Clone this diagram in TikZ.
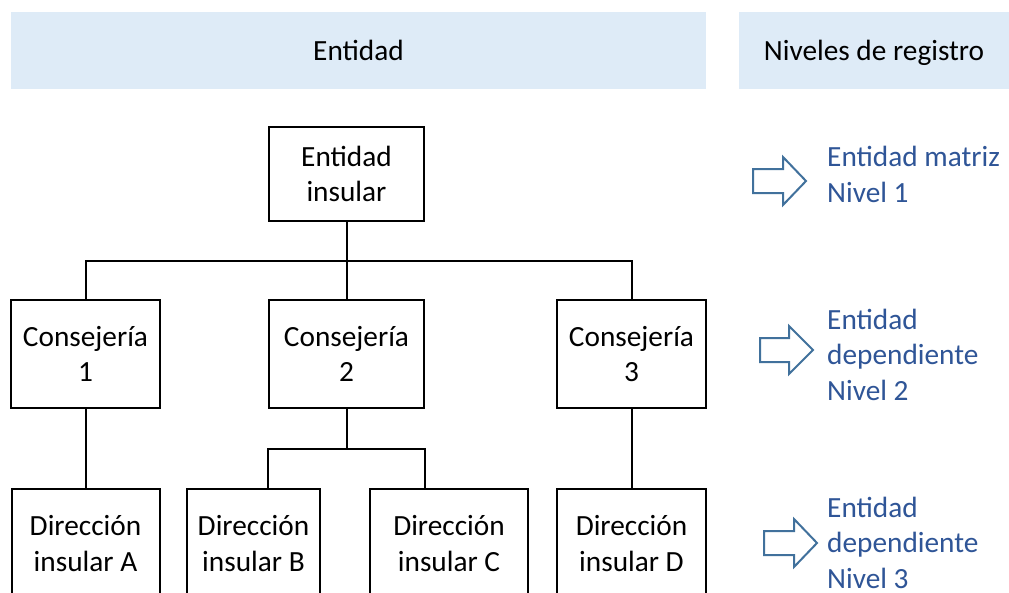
\documentclass[tikz,border=0pt]{standalone}
\usepackage{fontspec}
\setmainfont{Carlito}
\definecolor{hdr}{HTML}{DEEBF7}
\definecolor{lbl}{HTML}{2F5597}
\definecolor{arr}{HTML}{41719C}
\begin{document}
\begin{tikzpicture}[x=1pt,y=-1pt,
  every node/.style={font=\fontsize{29.3}{35.5}\selectfont},
  box/.style={draw=black, line width=2pt, fill=white, inner sep=0pt, align=center},
  hdrbox/.style={fill=hdr, inner sep=0pt, text depth=0pt},
  conn/.style={line width=2pt},
  lvl/.style={text=lbl, align=left, anchor=base west, inner sep=0pt},
  bigarrow/.style={draw=arr, line width=2pt, fill=white, line join=miter}]
\clip (0,0) rectangle (1009,592);
\fill[white] (0,0) rectangle (1009,592);
% headers
\node[hdrbox, minimum width=695pt, minimum height=77pt] (h1) at (358.5,50) {Entidad};
\node[hdrbox, minimum width=270pt, minimum height=77pt] (h2) at (874,50) {Niveles de registro};
% boxes
\node[box, minimum width=155pt, minimum height=94pt] (top) at (346.5,174) {Entidad\\insular};
\node[box, minimum width=149pt, minimum height=108pt] (c1) at (85.5,354) {Consejería\\1};
\node[box, minimum width=155pt, minimum height=108pt] (c2) at (346.5,354) {Consejería\\2};
\node[box, minimum width=149pt, minimum height=108pt] (c3) at (631.5,354) {Consejería\\3};
\node[box, minimum width=148pt, minimum height=109pt] (dA) at (85.5,543.5) {Dirección\\insular A};
\node[box, minimum width=133pt, minimum height=109pt] (dB) at (253.5,543.5) {Dirección\\insular B};
\node[box, minimum width=158pt, minimum height=109pt] (dC) at (449,543.5) {Dirección\\insular C};
\node[box, minimum width=149pt, minimum height=109pt] (dD) at (631.5,543.5) {Dirección\\insular D};
% connectors
\coordinate (j1) at (346.5,261);
\coordinate (j2) at (346.5,449);
\draw[conn] (top.south) -- (j1);
\draw[conn] (c1.north) |- (j1) -| (c3.north);
\draw[conn] (j1) -- (c2.north);
\draw[conn] (c1.south) -- (c1.south |- dA.north);
\draw[conn] (c2.south) -- (j2);
\draw[conn] (dB.north -| c2.south west) |- (j2) -| (dC.north -| c2.south east);
\draw[conn] (c3.south) -- (c3.south |- dD.north);
% level arrows
\draw[bigarrow] (753,169) -- (783,169) -- (783,157) -- (806,181) -- (783,205) -- (783,193) -- (753,193) -- cycle;
\draw[bigarrow] (760,338) -- (789,338) -- (789,326) -- (813,350) -- (789,374) -- (789,362) -- (760,362) -- cycle;
\draw[bigarrow] (764,531) -- (794,531) -- (794,519) -- (817,543) -- (794,567) -- (794,555) -- (764,555) -- cycle;
% level labels (base anchor = baseline of last line)
\node[lvl] (l1) at (827,202) {Entidad matriz\\Nivel 1};
\node[lvl] (l2) at (827,400) {Entidad\\dependiente\\Nivel 2};
\node[lvl] (l3) at (827,588) {Entidad\\dependiente\\Nivel 3};
\end{tikzpicture}
\end{document}
